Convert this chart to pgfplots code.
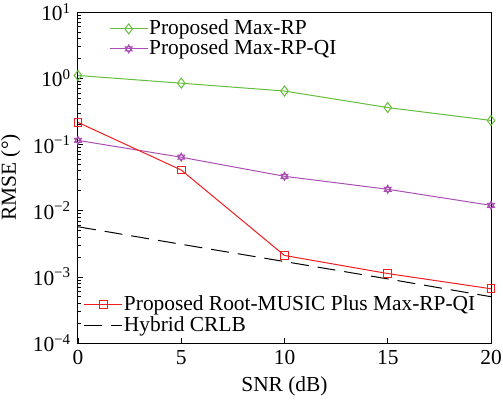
\documentclass[border=0pt]{standalone}
\usepackage{fontspec}
\setmainfont{Liberation Serif}
\usepackage{pgfplots}
\pgfplotsset{compat=1.18}
\definecolor{cgreen}{RGB}{100,190,60}
\definecolor{cpurple}{RGB}{170,80,180}
\definecolor{cred}{RGB}{240,30,30}
\pgfdeclareplotmark{hexa}{%
 \pgfpathmoveto{\pgfqpointpolar{90}{\pgfplotmarksize}}%
 \pgfpathlineto{\pgfqpointpolar{210}{\pgfplotmarksize}}%
 \pgfpathlineto{\pgfqpointpolar{330}{\pgfplotmarksize}}%
 \pgfpathclose
 \pgfpathmoveto{\pgfqpointpolar{270}{\pgfplotmarksize}}%
 \pgfpathlineto{\pgfqpointpolar{30}{\pgfplotmarksize}}%
 \pgfpathlineto{\pgfqpointpolar{150}{\pgfplotmarksize}}%
 \pgfpathclose
 \pgfusepathqstroke}
\newcommand{\bigf}{\fontsize{21.4}{24}\selectfont}
\pgfplotsset{
  mycommon/.style={
    width=413pt, height=331pt, scale only axis,
    xmin=0, xmax=20, ymin=1e-4, ymax=1e1,
    legend cell align=left,
    legend image code/.code={\draw[mark repeat=2,mark phase=2,##1] plot coordinates {(0pt,0pt) (19pt,0pt) (38pt,0pt)};},
  }
}
\begin{document}
\bigf
\begin{tikzpicture}
\begin{axis}[ymode=log, mycommon, name=ax,
  axis line style={line width=1pt},
  tick pos=left, tick align=inside,
  major tick length=5pt, minor tick length=3pt,
  every tick/.style={black, line width=0.6pt},
  xtick={0,5,10,15,20}, xticklabels={0,5,10,15,20},
  ytick={1e-4,1e-3,1e-2,1e-1,1,10},
  yticklabels={10\textsuperscript{−4},10\textsuperscript{−3},10\textsuperscript{−2},10\textsuperscript{−1},10\textsuperscript{0},10\textsuperscript{1}},
  ticklabel style={font=\bigf},
  xlabel={SNR (dB)}, ylabel={RMSE (°)},
  label style={font=\bigf},
  xlabel style={yshift=3pt},
  ylabel style={yshift=-2pt},
  legend style={draw=none, fill=none, at={(0.075,0.98)}, anchor=north west, font=\bigf, inner sep=0pt, row sep=0pt, nodes={inner sep=1pt}},
]
\addplot[cgreen, line width=1pt, mark=diamond, mark size=5pt, mark options={solid}] coordinates {(0,1.1) (5,0.84) (10,0.64) (15,0.36) (20,0.23)};
\addlegendentry{Proposed Max-RP}
\addplot[cpurple, line width=1pt, mark=hexa, mark size=4pt, mark options={solid}] coordinates {(0,0.115) (5,0.064) (10,0.033) (15,0.021) (20,0.012)};
\addlegendentry{Proposed Max-RP-QI}
\end{axis}
\begin{axis}[ymode=log, mycommon, hide axis,
  legend style={draw=none, fill=none, at={(0.014,0.148)}, anchor=north west, font=\bigf, inner sep=0pt, row sep=1.5pt, nodes={inner sep=1pt}},
]
\addplot[cred, line width=1pt, mark=square, mark size=3.8pt, mark options={solid}] coordinates {(0,0.215) (5,0.041) (10,0.0021) (15,0.00112) (20,0.00066)};
\addlegendentry{Proposed Root-MUSIC Plus Max-RP-QI}
\addplot[black, line width=1pt, dash pattern=on 18pt off 9pt] coordinates {(0,0.0057) (5,0.0031) (10,0.0017) (15,0.00093) (20,0.0005)};
\addlegendentry{Hybrid CRLB}
\end{axis}
\pgfresetboundingbox
\path ([xshift=-78pt,yshift=-56pt]ax.south west) rectangle ([xshift=12pt,yshift=12pt]ax.north east);
\end{tikzpicture}
\end{document}
